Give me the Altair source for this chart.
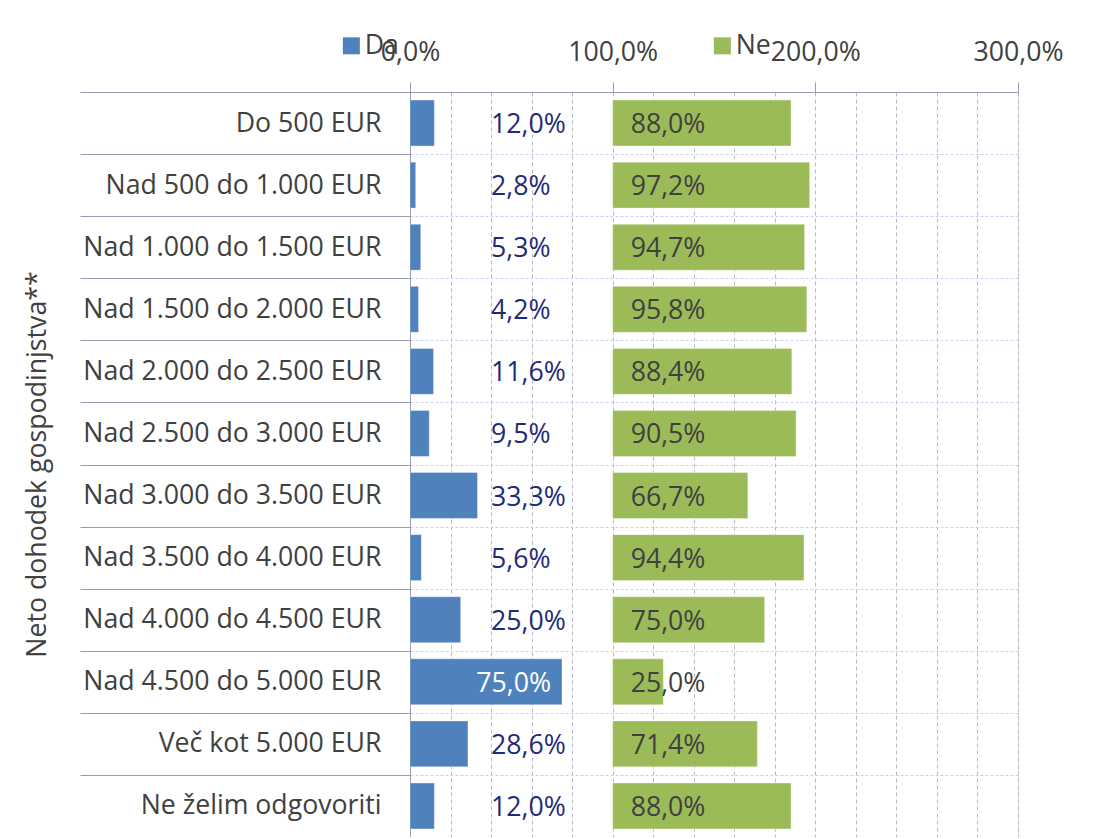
import altair as alt
import pandas as pd

categories = [
    "Do 500 EUR",
    "Nad 500 do 1.000 EUR",
    "Nad 1.000 do 1.500 EUR",
    "Nad 1.500 do 2.000 EUR",
    "Nad 2.000 do 2.500 EUR",
    "Nad 2.500 do 3.000 EUR",
    "Nad 3.000 do 3.500 EUR",
    "Nad 3.500 do 4.000 EUR",
    "Nad 4.000 do 4.500 EUR",
    "Nad 4.500 do 5.000 EUR",
    "Več kot 5.000 EUR",
    "Ne želim odgovoriti",
]
da_values = [12.0, 2.8, 5.3, 4.2, 11.6, 9.5, 33.3, 5.6, 25.0, 75.0, 28.6, 12.0]
ne_values = [88.0, 97.2, 94.7, 95.8, 88.4, 90.5, 66.7, 94.4, 75.0, 25.0, 71.4, 88.0]
series = ["Da", "Ne"]
x_ticks = list(range(0, 301, 20))

rows = []
for c, d, n in zip(categories, da_values, ne_values):
    rows.append({"cat": c, "series": "Da", "value": d})
    rows.append({"cat": c, "series": "Ne", "value": n})
df = pd.DataFrame(rows)

FONT = "Open Sans"
TXT = "#404040"
FS = 26.7

base = alt.Chart(df).transform_calculate(
    start="datum.series === 'Da' ? 0 : 100",
    end="(datum.series === 'Da' ? 0 : 100) + datum.value",
    lab="replace(format(datum.value, '.1f'), '.', ',') + '%'",
)

y_scale = alt.Scale(paddingInner=0, paddingOuter=0)

y_enc = alt.Y(
    "cat:N",
    sort=categories,
    scale=y_scale,
    axis=alt.Axis(
        title="Neto dohodek gospodinjstva**",
        titleFontSize=FS,
        titleFontWeight="normal",
        titleColor=TXT,
        titleFont=FONT,
        titleX=-373,
        titleY=372,
        titleAngle=270,
        titleBaseline="middle",
        titleAlign="center",
        labelFontSize=FS,
        labelColor=TXT,
        labelFont=FONT,
        labelLimit=500,
        tickBand="extent",
        tickSize=330,
        tickColor="#9a9ab0",
        labelPadding=-301,
        domainColor="#9a9ab0",
        grid=True,
        gridColor="#cdd0f0",
        gridDash=[3, 2],
    ),
)

x_enc = alt.X(
    "start:Q",
    scale=alt.Scale(domain=[0, 300], nice=False),
    axis=alt.Axis(
        orient="top",
        values=x_ticks,
        title=None,
        labelExpr="datum.value % 100 === 0 ? replace(format(datum.value, '.1f'), '.', ',') + '%' : ''",
        labelFontSize=FS,
        labelColor=TXT,
        labelFont=FONT,
        labelFlush=False,
        labelPadding=16,
        tickSize=10,
        tickColor="#9a9ab0",
        tickOpacity={"condition": {"test": "datum.value % 100 === 0", "value": 1}, "value": 0},
        domainColor="#9a9ab0",
        grid=True,
        gridColor="#b8b8cc",
        gridDash=[4, 3],
    ),
)

bars = base.mark_bar(
    height={"band": 0.74}, stroke="#ffffff", strokeOpacity=0.35, strokeWidth=1
).encode(
    y=y_enc,
    x=x_enc,
    x2="end:Q",
    color=alt.Color(
        "series:N",
        scale=alt.Scale(domain=series, range=["#4f81bd", "#9bbb59"]),
        legend=alt.Legend(
            title=None,
            orient="none",
            direction="horizontal",
            legendX=-72,
            legendY=-60,
            symbolType="square",
            symbolSize=289,
            symbolStrokeWidth=0,
            labelFontSize=FS,
            labelColor=TXT,
            labelFont=FONT,
            labelOffset=0,
            columnPadding=310,
            padding=0,
        ),
    ),
)

da_small = base.transform_filter(
    "datum.series === 'Da' && datum.value < 40"
).transform_calculate(lx="40").mark_text(
    align="left", baseline="middle", fontSize=FS, font=FONT, color="#1f2b78", dy=2
).encode(
    y=alt.Y("cat:N", sort=categories),
    x=alt.X("lx:Q"),
    text="lab:N",
)

da_big = base.transform_filter(
    "datum.series === 'Da' && datum.value >= 40"
).mark_text(
    align="right", baseline="middle", fontSize=FS, font=FONT, color="#ffffff", dx=-11, dy=2
).encode(
    y=alt.Y("cat:N", sort=categories),
    x=alt.X("value:Q"),
    text="lab:N",
)

ne_text = base.transform_filter("datum.series === 'Ne'").mark_text(
    align="left", baseline="middle", fontSize=FS, font=FONT, color=TXT, dx=18, dy=2
).encode(
    y=alt.Y("cat:N", sort=categories),
    x=alt.X("start:Q"),
    text="lab:N",
)

chart = (
    alt.layer(bars, da_small, da_big, ne_text)
    .properties(
        width=608,
        height=745,
        autosize=alt.AutoSizeParams(type="none"),
        padding={"left": 402, "top": 84, "right": 64, "bottom": 0},
        background="#ffffff",
    )
    .configure_view(fill="#f7f7f7", stroke=None)
    .configure(font=FONT)
)

chart.save("out.html", embed_options={"renderer": "svg", "actions": False})
